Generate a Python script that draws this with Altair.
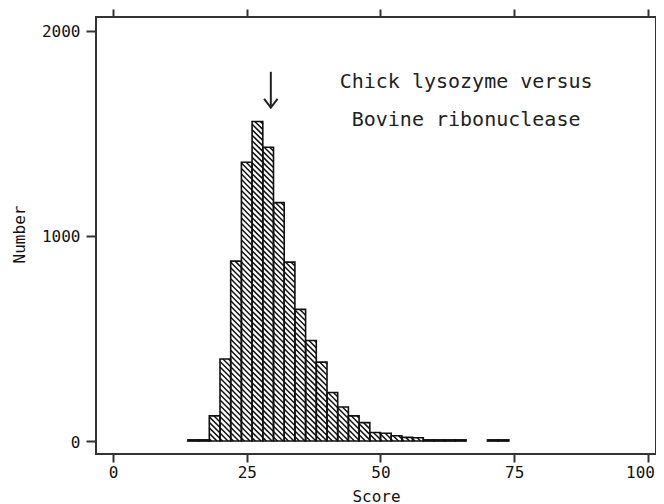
import altair as alt
import pandas as pd
import numpy as np

# ---- data ----
bin_start = [14, 16, 18, 20, 22, 24, 26, 28, 30, 32, 34, 36, 38, 40, 42, 44,
             46, 48, 50, 52, 54, 56, 58, 60, 62, 64, 70, 72]
counts = [6, 6, 123, 400, 877, 1359, 1558, 1432, 1162, 872, 642, 490, 385, 237,
          166, 123, 90, 42, 38, 26, 18, 16, 6, 6, 6, 6, 6, 6]
bin_width = 2

x_ticks = [0, 25, 50, 75, 100]
y_ticks = [0, 1000, 2000]

note_lines = ["Chick lysozyme versus", "Bovine ribonuclease"]
note_x = [66.0, 66.0]
note_y = [1720, 1534]

arrow_x = [29.5]
arrow_top = [1800]
arrow_tip = [1625]

# ---- layout ----
W, H = 560, 437
X_DOM = [-3.18, 101.5]
Y_DOM = [-63, 2067]
FONT = "DejaVu Sans Mono"
INK = "#222222"

bars = pd.DataFrame({
    "start": bin_start,
    "end": [s + bin_width for s in bin_start],
    "count": counts,
    "base": [0] * len(bin_start),
})

# hatch lines (\\\ direction) clipped to each bar, built from the bar table
sx = W / (X_DOM[1] - X_DOM[0])
sy = H / (Y_DOM[1] - Y_DOM[0])
period = 5.5
rows = []
for s, c in zip(bin_start, counts):
    u0 = (s - X_DOM[0]) * sx
    u1 = (s + bin_width - X_DOM[0]) * sx
    t1 = c * sy
    if t1 < 3:
        continue
    k0 = int(np.ceil(u0 / period))
    k1 = int(np.floor((u1 + t1) / period))
    for k in range(k0, k1 + 1):
        cc = k * period
        ua = max(u0, cc - t1)
        ub = min(u1, cc)
        if ub - ua < 0.4:
            continue
        rows.append({"x": ua / sx + X_DOM[0], "y": (cc - ua) / sy,
                     "x2": ub / sx + X_DOM[0], "y2": (cc - ub) / sy})
hatch_df = pd.DataFrame(rows)

notes = pd.DataFrame({"x": note_x, "y": note_y, "label": note_lines})
arrow = pd.DataFrame({"x": arrow_x, "top": arrow_top, "tip": arrow_tip})

xs = alt.Scale(domain=X_DOM, nice=False, zero=False)
ys = alt.Scale(domain=Y_DOM, nice=False, zero=False)

axis_common = dict(domain=False, grid=False, tickColor="#333333", tickWidth=2,
                   labelFont=FONT, labelFontSize=16, labelColor="#111111",
                   titleFont=FONT, titleFontSize=16, titleFontWeight="normal",
                   titleColor="#111111", format="d")

x_bottom = alt.Axis(orient="bottom", values=x_ticks, tickSize=8, labelPadding=2,
                    labelFlush=False,
                    labelOffset={"condition": {"test": "datum.value == 100", "value": -8},
                                 "value": 0},
                    title="Score", titleY=47,
                    titleBaseline="alphabetic", **axis_common)
y_left = alt.Axis(orient="left", values=y_ticks, tickSize=10, labelPadding=6,
                  labelOffset=1, title="Number", titleX=-72, titleY=217,
                  titleAngle=-90, titleAlign="center", titleBaseline="alphabetic",
                  **axis_common)
x_top = alt.Axis(orient="top", values=x_ticks, tickSize=8, labels=False,
                 title=None, domain=False, grid=False, tickColor="#333333", tickWidth=2)
y_right = alt.Axis(orient="right", values=y_ticks, tickSize=8, labels=False,
                   title=None, domain=False, grid=False, tickColor="#333333", tickWidth=2)

hatch = alt.Chart(hatch_df).mark_rule(color="#111111", strokeWidth=1.5).encode(
    x=alt.X("x:Q", scale=xs, axis=x_bottom),
    y=alt.Y("y:Q", scale=ys, axis=y_left),
    x2="x2:Q",
    y2="y2:Q",
)

outline = alt.Chart(bars).mark_rect(fill="white", fillOpacity=0, stroke="#111111",
                                    strokeWidth=1.6).encode(
    x=alt.X("start:Q", scale=xs, axis=x_top),
    x2="end:Q",
    y=alt.Y("count:Q", scale=ys, axis=y_right),
    y2="base:Q",
)

shaft = alt.Chart(arrow).mark_rule(color=INK, strokeWidth=2).encode(
    x=alt.X("x:Q", scale=xs, axis=None),
    y=alt.Y("top:Q", scale=ys, axis=None),
    y2="tip:Q",
)

head = alt.Chart(arrow).mark_point(shape="M-1,-1.3L0,0L1,-1.3", size=180,
                                   filled=False, strokeWidth=2, color=INK,
                                   opacity=1).encode(
    x=alt.X("x:Q", scale=xs, axis=None),
    y=alt.Y("tip:Q", scale=ys, axis=None),
)

note = alt.Chart(notes).mark_text(font=FONT, fontSize=20, align="center",
                                  baseline="alphabetic", color=INK).encode(
    x=alt.X("x:Q", scale=xs, axis=None),
    y=alt.Y("y:Q", scale=ys, axis=None),
    text="label:N",
)

chart = alt.layer(hatch, outline, shaft, head, note).resolve_axis(
    x="independent", y="independent"
).properties(
    width=W, height=H,
    autosize=alt.AutoSizeParams(type="none"),
    padding={"left": 88, "top": 9, "right": 0, "bottom": 50},
    background="white",
).configure_view(stroke="#333333", strokeWidth=2)

chart.save("out.html", embed_options={"renderer": "svg", "actions": False})
